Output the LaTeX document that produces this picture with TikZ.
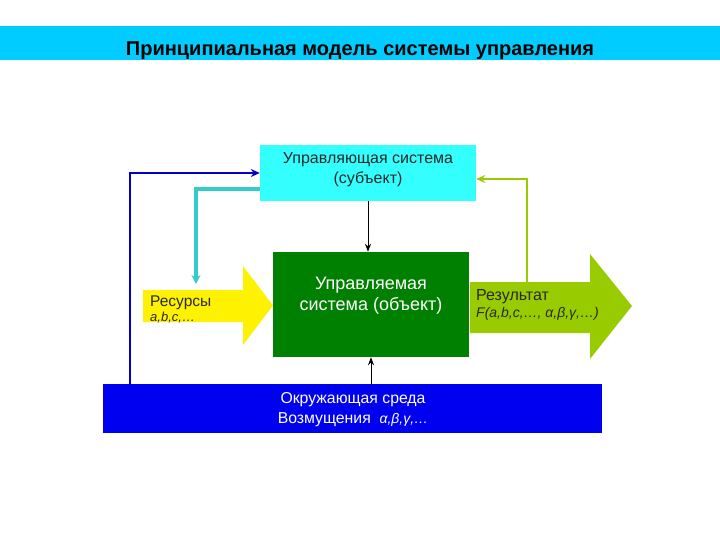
\documentclass[tikz,border=0pt]{standalone}
\usepackage{fontspec}
\setmainfont{Liberation Sans}
\usetikzlibrary{arrows.meta}
\definecolor{bandc}{RGB}{0,204,255}
\definecolor{ctrlc}{RGB}{51,255,255}
\definecolor{objc}{RGB}{0,128,0}
\definecolor{envc}{RGB}{0,0,240}
\definecolor{linkblue}{RGB}{0,0,204}
\definecolor{tealc}{RGB}{51,204,204}
\definecolor{resc}{RGB}{153,204,0}
\definecolor{txtgray}{RGB}{40,40,40}
\tikzset{
  boxbase/.style={draw=none, inner sep=0pt, align=center},
  ctrlbox/.style={boxbase, fill=ctrlc, minimum width=216pt, minimum height=56pt},
  objbox/.style={boxbase, fill=objc, minimum width=196pt, minimum height=105pt},
  envbox/.style={boxbase, fill=envc, minimum width=499pt, minimum height=49pt},
  blk/.style={black, line width=1pt, -{Stealth[length=8pt,width=6pt]}},
  bluelink/.style={linkblue, line width=2.2pt, -{Stealth[length=9pt,width=8pt]}},
  teallink/.style={tealc, line width=3.2pt, -{Stealth[length=9pt,width=9pt]}},
  reslink/.style={resc, line width=2.2pt, -{Stealth[length=9pt,width=8pt]}},
  lbl/.style={inner sep=0pt, anchor=base west},
}
\begin{document}
\begin{tikzpicture}[x=1pt,y=-1pt]
\useasboundingbox (0,0) rectangle (720,540);
\fill[bandc] (0,26) rectangle (720,60);
\node[inner sep=0pt, font=\bfseries\fontsize{20}{24}\selectfont] (title) at (360,51) {Принципиальная модель системы управления};

\node[ctrlbox] (ctrl) at (368,173) {};
\node[inner sep=0pt, align=center, text=txtgray, font=\fontsize{16}{20}\selectfont] (ctrltxt) at (368,170) {Управляющая система\\(субъект)};

\node[objbox] (obj) at (371,304.5) {};
\node[inner sep=0pt, align=center, text=white, font=\fontsize{18}{21}\selectfont] (objtxt) at (371,296) {Управляемая\\система (объект)};

\node[envbox] (env) at (352.5,408.5) {};
\node[inner sep=0pt, align=center, text=white, font=\fontsize{15.8}{20}\selectfont] (envtxt) at (353,410) {Окружающая среда\\Возмущения \ \textit{\fontsize{14}{20}\selectfont α,β,γ,…}};

% resources arrow
\fill[yellow] (143,290) -- (243,290) -- (243,266) -- (273,305.5) -- (243,345) -- (243,322) -- (143,322) -- cycle;
\coordinate (resin) at (196,284);
\node[lbl, font=\fontsize{15.5}{16}\selectfont, text=txtgray] (restxt) at (150,306) {Ресурсы};
\node[lbl, font=\itshape\fontsize{13}{14}\selectfont, text=txtgray] (resabc) at (150,321) {a,b,c,…};

% result arrow
\fill[resc] (470,282) -- (590,282) -- (590,254) -- (632,306) -- (590,359) -- (590,333) -- (470,333) -- cycle;
\coordinate (resout) at (527,282);
\node[lbl, font=\fontsize{16}{16}\selectfont, text=txtgray] (outtxt) at (476,300) {Результат};
\node[lbl, font=\itshape\fontsize{14}{14}\selectfont, text=txtgray] (outf) at (476,317) {F(a,b,c,…, α,β,γ,…)};

% connectors
\draw[blk] (ctrl.south) -- (ctrl.south |- obj.north);
\draw[blk] (env.north -| obj.south) -- (obj.south);
\coordinate (envleft) at (130,384);
\draw[bluelink] (envleft) |- (ctrl.west);
\draw[teallink] ([yshift=-16pt]ctrl.west) -| (resin);
\draw[reslink] (resout) |- ([yshift=-6pt]ctrl.east);
\end{tikzpicture}
\end{document}
